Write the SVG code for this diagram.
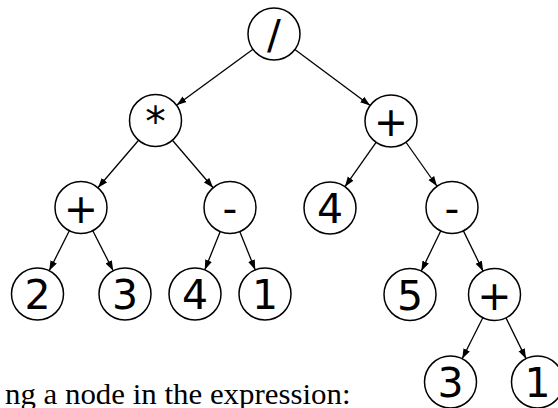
<svg xmlns="http://www.w3.org/2000/svg" width="558" height="408" viewBox="0 0 558 408">
<style>
.n circle{fill:#fff;stroke:#000;stroke-width:1.5}
.n text{font-family:"DejaVu Sans",sans-serif;font-size:41px;text-anchor:middle;fill:#000}
.e line{stroke:#000;stroke-width:1.3;marker-end:url(#ah)}
.cap{font-family:"Liberation Serif",serif;font-size:28.5px;fill:#000}
</style>
<defs>
<marker id="ah" markerUnits="userSpaceOnUse" markerWidth="11" markerHeight="9" refX="10" refY="4" orient="auto">
<path d="M0,0.5 L10,4 L0,7.5 z" fill="#000"/>
</marker>
</defs>
<rect width="558" height="408" fill="#fff"/>
<g id="edges" class="e">
<line x1="253" y1="49.33" x2="176.5" y2="105.17"/>
<line x1="294.86" y1="49.51" x2="370.14" y2="105.49"/>
<line x1="138.59" y1="140.25" x2="97.91" y2="187.75"/>
<line x1="172.41" y1="140.25" x2="213.09" y2="187.75"/>
<line x1="69.32" y1="230.73" x2="49.18" y2="270.77"/>
<line x1="92.79" y1="230.67" x2="113.21" y2="270.83"/>
<line x1="220.25" y1="231.6" x2="204.75" y2="269.9"/>
<line x1="239.75" y1="231.6" x2="255.25" y2="269.9"/>
<line x1="376.07" y1="142.29" x2="344.93" y2="186.71"/>
<line x1="405.98" y1="142.25" x2="437.02" y2="186.25"/>
<line x1="440.7" y1="230.91" x2="421.3" y2="271.09"/>
<line x1="463.41" y1="230.86" x2="483.09" y2="271.14"/>
<line x1="482.82" y1="317.73" x2="462.18" y2="358.77"/>
<line x1="505.97" y1="317.84" x2="526.03" y2="358.66"/>
</g>
<g id="n-root" class="n"><circle cx="274" cy="34" r="26"/><text x="274" y="49">/</text></g>
<g id="n-mul" class="n"><circle cx="155.5" cy="120.5" r="26"/><text x="155.5" y="135.5">*</text></g>
<g id="n-addR" class="n"><circle cx="391" cy="121" r="26"/><text x="391" y="136">+</text></g>
<g id="n-addL" class="n"><circle cx="81" cy="207.5" r="26"/><text x="81" y="222.5">+</text></g>
<g id="n-subL" class="n"><circle cx="230" cy="207.5" r="26"/><text x="230" y="222.5">-</text></g>
<g id="n-4R" class="n"><circle cx="330" cy="208" r="26"/><text x="330" y="223">4</text></g>
<g id="n-subR" class="n"><circle cx="452" cy="207.5" r="26"/><text x="452" y="222.5">-</text></g>
<g id="n-2" class="n"><circle cx="37.5" cy="294" r="26"/><text x="37.5" y="309">2</text></g>
<g id="n-3" class="n"><circle cx="125" cy="294" r="26"/><text x="125" y="309">3</text></g>
<g id="n-4" class="n"><circle cx="195" cy="294" r="26"/><text x="195" y="309">4</text></g>
<g id="n-1" class="n"><circle cx="265" cy="294" r="26"/><text x="265" y="309">1</text></g>
<g id="n-5" class="n"><circle cx="410" cy="294.5" r="26"/><text x="410" y="309.5">5</text></g>
<g id="n-addB" class="n"><circle cx="494.5" cy="294.5" r="26"/><text x="494.5" y="309.5">+</text></g>
<g id="n-3B" class="n"><circle cx="450.5" cy="382" r="26"/><text x="450.5" y="397">3</text></g>
<g id="n-1B" class="n"><circle cx="537.5" cy="382" r="26"/><text x="537.5" y="397">1</text></g>
<text class="cap" x="5" y="404" textLength="345.5" lengthAdjust="spacingAndGlyphs">ng a node in the expression:</text>
</svg>
